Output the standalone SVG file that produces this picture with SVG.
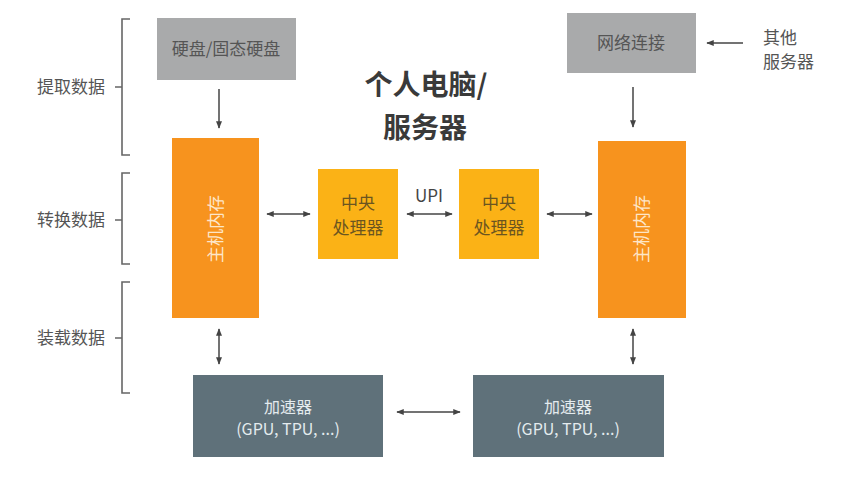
<svg xmlns="http://www.w3.org/2000/svg" width="847" height="477" viewBox="0 0 847 477">
<defs>
<marker id="ah" viewBox="0 0 10 10" refX="9" refY="5" markerWidth="5" markerHeight="5" orient="auto-start-reverse">
<path d="M0,1 L10,5 L0,9 Z" fill="#444"/>
</marker>
<style>
text{font-family:"Noto Sans CJK SC","Noto Sans",sans-serif;}
.gray{fill:#a9aaab;}
.mem{fill:#f7931e;}
.cpu{fill:#fbb216;}
.acc{fill:#5f717a;}
.tg{fill:#555;font-size:17px;text-anchor:middle;}
.tm{fill:#fde6c8;font-size:17px;text-anchor:middle;}
.tc{fill:#6b5520;font-size:17px;text-anchor:middle;}
.ta{fill:#e4ebee;font-size:16px;text-anchor:middle;}
.tl{fill:#555;font-size:17px;text-anchor:middle;}
.br{fill:none;stroke:#666;stroke-width:1.6;}
.c{fill:none;stroke:#444;stroke-width:1.5;}
</style>
</defs>
<rect width="847" height="477" fill="#fff"/>
<g id="title"><text x="426" y="95" font-size="28" font-weight="bold" fill="#3a3a3a" text-anchor="middle">个人电脑/</text><text x="425" y="138" font-size="28" font-weight="bold" fill="#3a3a3a" text-anchor="middle">服务器</text></g>
<g id="brackets">
<path class="br" d="M130,19 H122 V155 H130 M122,87 H115"/>
<text class="tl" x="71" y="93">提取数据</text>
<path class="br" d="M130,173 H122 V264 H130 M122,220 H115"/>
<text class="tl" x="71" y="226">转换数据</text>
<path class="br" d="M130,282 H122 V393 H130 M122,338 H115"/>
<text class="tl" x="71" y="344">装载数据</text>
</g>
<g id="hdd"><rect class="gray" x="157" y="18" width="139" height="62"/><text class="tg" x="226" y="55">硬盘/固态硬盘</text></g>
<g id="net"><rect class="gray" x="567" y="13" width="129" height="60"/><text class="tg" x="631" y="49">网络连接</text></g>
<g id="others"><text x="763" y="44" font-size="17" fill="#555">其他</text><text x="763" y="68" font-size="17" fill="#555">服务器</text></g>
<g id="mem1"><rect class="mem" x="172" y="138" width="87" height="180"/><text class="tm" transform="translate(222,229) rotate(-90)" y="0">主机内存</text></g>
<g id="mem2"><rect class="mem" x="598" y="141" width="88" height="177"/><text class="tm" transform="translate(648,229) rotate(-90)" y="0">主机内存</text></g>
<g id="cpu1"><rect class="cpu" x="318" y="169" width="80" height="90"/><text class="tc" x="358" y="209">中央</text><text class="tc" x="358" y="234">处理器</text></g>
<g id="cpu2"><rect class="cpu" x="459" y="169" width="80" height="90"/><text class="tc" x="499" y="209">中央</text><text class="tc" x="499" y="234">处理器</text></g>
<g id="acc1"><rect class="acc" x="193" y="375" width="190" height="82"/><text class="ta" x="288" y="413">加速器</text><text class="ta" x="288" y="435" font-family="Lato,'Noto Sans',sans-serif">(GPU, TPU, ...)</text></g>
<g id="acc2"><rect class="acc" x="473" y="375" width="191" height="82"/><text class="ta" x="568" y="413">加速器</text><text class="ta" x="568" y="435" font-family="Lato,'Noto Sans',sans-serif">(GPU, TPU, ...)</text></g>
<g id="upi"><text x="429" y="202" font-size="17" fill="#444" text-anchor="middle" font-family="Lato,'Noto Sans',sans-serif">UPI</text></g>
<g id="connectors">
<line class="c" x1="219" y1="89" x2="219" y2="128" marker-end="url(#ah)"/>
<line class="c" x1="633" y1="87" x2="633" y2="127" marker-end="url(#ah)"/>
<line class="c" x1="743" y1="43" x2="707" y2="43" marker-end="url(#ah)"/>
<line class="c" x1="267" y1="214" x2="310" y2="214" marker-start="url(#ah)" marker-end="url(#ah)"/>
<line class="c" x1="407" y1="214" x2="452" y2="214" marker-start="url(#ah)" marker-end="url(#ah)"/>
<line class="c" x1="547" y1="214" x2="592" y2="214" marker-start="url(#ah)" marker-end="url(#ah)"/>
<line class="c" x1="219" y1="329" x2="219" y2="364" marker-start="url(#ah)" marker-end="url(#ah)"/>
<line class="c" x1="633" y1="329" x2="633" y2="364" marker-start="url(#ah)" marker-end="url(#ah)"/>
<line class="c" x1="397" y1="412" x2="460" y2="412" marker-start="url(#ah)" marker-end="url(#ah)"/>
</g>
</svg>
